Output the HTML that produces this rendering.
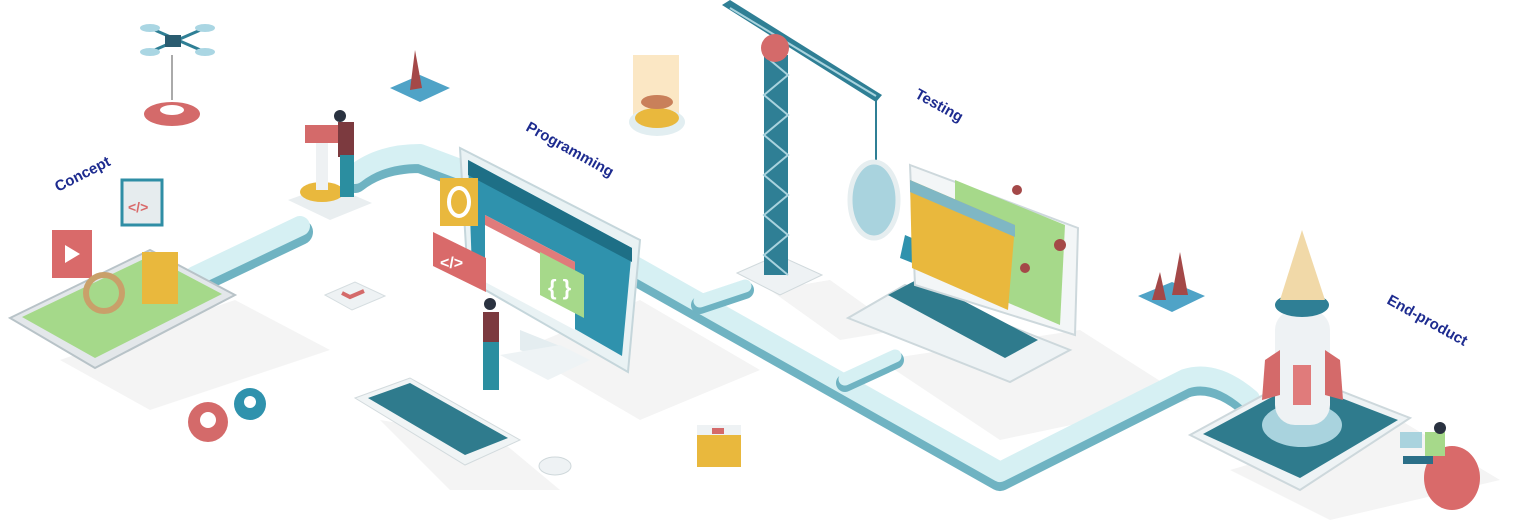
<!DOCTYPE html>
<html><head><meta charset="utf-8"><style>
html,body{margin:0;padding:0;background:#fff;}
svg{display:block}
text{font-family:"Liberation Sans",sans-serif;font-weight:bold;fill:#1d2b8f;font-size:15px}
</style></head><body>
<svg width="1536" height="530" viewBox="0 0 1536 530" xmlns="http://www.w3.org/2000/svg">
<!-- shadows -->
<g fill="#f4f4f4">
<polygon points="60,360 235,300 330,350 150,410"/>
<polygon points="520,350 640,300 760,370 640,420"/>
<polygon points="880,360 1080,330 1190,400 1000,440"/>
<polygon points="1230,470 1400,420 1500,480 1330,520"/>
<polygon points="380,420 500,440 560,490 450,490"/>
<polygon points="770,290 830,280 900,330 840,340"/>
</g>
<!-- path -->
<g fill="none" stroke-linejoin="round" stroke-linecap="round">
<path d="M195,282 L300,232 M355,180 Q380,160 420,160 L460,175 L640,275 L1000,478 L1185,385 Q1215,375 1250,405" stroke="#6fb3c2" stroke-width="26"/>
<path d="M195,276 L300,226 M355,174 Q380,154 420,154 L460,169 L640,269 L1000,472 L1185,379 Q1215,369 1250,399" stroke="#d6f0f3" stroke-width="20"/>
<path d="M700,305 L745,290 M845,383 L895,360" stroke="#6fb3c2" stroke-width="18"/>
<path d="M700,301 L745,286 M845,379 L895,356" stroke="#d6f0f3" stroke-width="13"/>
</g>
<!-- left tablet -->
<polygon points="10,318 150,250 235,295 95,368" fill="#e3e7ea" stroke="#b8c3c8" stroke-width="2"/>
<polygon points="22,317 150,256 222,294 95,358" fill="#a5d98a"/>
<rect x="52" y="230" width="40" height="48" fill="#d96a6a"/>
<polygon points="65,245 80,254 65,263" fill="#fff"/>
<rect x="122" y="180" width="40" height="45" fill="#e6ecee" stroke="#2f8ea5" stroke-width="3"/>
<text x="128" y="212" style="fill:#d96a6a;font-size:14px">&lt;/&gt;</text>
<rect x="142" y="252" width="36" height="52" fill="#e9b83d"/>
<circle cx="104" cy="293" r="18" fill="none" stroke="#c9a06a" stroke-width="6"/>
<!-- drone & gear -->
<ellipse cx="172" cy="114" rx="28" ry="12" fill="#d46a6a"/>
<ellipse cx="172" cy="110" rx="12" ry="5" fill="#fff"/>
<line x1="172" y1="55" x2="172" y2="100" stroke="#555"/>
<g stroke="#2f7f95" stroke-width="3"><line x1="150" y1="28" x2="205" y2="52"/><line x1="150" y1="52" x2="205" y2="28"/></g>
<g fill="#aad6e3"><ellipse cx="150" cy="28" rx="10" ry="4"/><ellipse cx="205" cy="28" rx="10" ry="4"/><ellipse cx="150" cy="52" rx="10" ry="4"/><ellipse cx="205" cy="52" rx="10" ry="4"/></g>
<rect x="165" y="35" width="16" height="12" fill="#2a5c70"/>
<!-- person & gear stand -->
<polygon points="288,200 330,185 372,203 330,220" fill="#e9eef0"/>
<ellipse cx="322" cy="192" rx="22" ry="10" fill="#e9b83d"/>
<rect x="316" y="135" width="12" height="55" fill="#eef1f3"/>
<rect x="305" y="125" width="35" height="18" fill="#d46a6a"/>
<rect x="338" y="122" width="16" height="35" fill="#7c3a3f"/>
<rect x="340" y="155" width="14" height="42" fill="#2b8ea0"/>
<circle cx="340" cy="116" r="6" fill="#2a3240"/>
<!-- cone pads -->
<polygon points="390,88 420,75 450,88 420,102" fill="#4fa3c7"/>
<polygon points="415,50 422,88 410,90" fill="#a44848"/>
<polygon points="1138,296 1172,282 1205,296 1172,312" fill="#4fa3c7"/>
<polygon points="1180,252 1188,295 1172,295" fill="#a44848"/>
<polygon points="1160,272 1166,300 1152,300" fill="#a44848"/>
<!-- jar -->
<rect x="633" y="55" width="46" height="60" fill="#fbe7c4"/>
<ellipse cx="657" cy="122" rx="28" ry="14" fill="#e2eef1"/>
<ellipse cx="657" cy="118" rx="22" ry="10" fill="#e9b83d"/>
<ellipse cx="657" cy="102" rx="16" ry="7" fill="#c9805a"/>
<!-- monitor -->
<polygon points="460,148 640,240 628,372 468,280" fill="#e9f2f4" stroke="#c5d6db" stroke-width="2"/>
<polygon points="468,160 632,248 622,356 472,270" fill="#2f92ad"/>
<polygon points="468,160 632,248 632,262 468,175" fill="#1e6f86"/>
<polygon points="485,215 575,262 575,330 485,282" fill="#fff"/>
<polygon points="485,215 575,262 575,272 485,225" fill="#e07b7b"/>
<polygon points="540,252 584,275 584,318 540,295" fill="#a6d98a"/>
<text x="548" y="295" style="fill:#fff;font-size:22px">{ }</text>
<rect x="440" y="178" width="38" height="48" fill="#e9b83d"/>
<ellipse cx="459" cy="202" rx="10" ry="14" fill="none" stroke="#fff" stroke-width="4"/>
<polygon points="433,232 486,258 486,292 433,266" fill="#d96a6a"/>
<text x="440" y="268" style="fill:#fff;font-size:16px">&lt;/&gt;</text>
<polygon points="520,330 570,350 570,368 520,350" fill="#e4edf0"/>
<polygon points="500,355 548,380 590,360 560,345" fill="#eef3f5"/>
<!-- programmer -->
<rect x="483" y="312" width="16" height="32" fill="#7c3a3f"/>
<rect x="483" y="342" width="16" height="48" fill="#2b8ea0"/>
<circle cx="490" cy="304" r="6" fill="#2a3240"/>
<!-- check card -->
<polygon points="325,295 355,282 385,296 352,310" fill="#eef2f4" stroke="#d5dde0"/>
<path d="M342,293 l8,4 l14,-6" stroke="#d46a6a" stroke-width="4" fill="none"/>
<!-- keyboard -->
<polygon points="355,398 410,378 520,440 465,465" fill="#f0f4f5" stroke="#d2dadd"/>
<polygon points="368,398 410,383 508,438 465,455" fill="#2f7b8d"/>
<ellipse cx="555" cy="466" rx="16" ry="9" fill="#eef2f4" stroke="#cfd8db"/>
<!-- gears bottom -->
<circle cx="208" cy="422" r="20" fill="#d46a6a"/><circle cx="208" cy="420" r="8" fill="#fff"/>
<circle cx="250" cy="404" r="16" fill="#2f92ad"/><circle cx="250" cy="402" r="6" fill="#fff"/>
<!-- stacked box -->
<rect x="697" y="435" width="44" height="32" fill="#e9b83d"/>
<rect x="697" y="425" width="44" height="10" fill="#eef2f4"/>
<rect x="712" y="428" width="12" height="6" fill="#d46a6a"/>
<!-- crane -->
<polygon points="737,273 778,255 822,275 780,295" fill="#eef2f4" stroke="#d0d9dc"/>
<rect x="764" y="55" width="24" height="220" fill="#2f7f95"/>
<path d="M764,55 l24,20 l-24,20 l24,20 l-24,20 l24,20 l-24,20 l24,20 l-24,20 l24,20 l-24,20 l24,20" stroke="#a9d3de" stroke-width="2" fill="none"/>
<polygon points="722,5 730,0 882,95 876,102" fill="#2f7f95"/>
<path d="M730,8 L876,96" stroke="#a9d3de" stroke-width="2"/>
<circle cx="775" cy="48" r="14" fill="#d46a6a"/>
<line x1="876" y1="100" x2="876" y2="170" stroke="#2f7f95" stroke-width="2"/>
<!-- magnifier -->
<ellipse cx="874" cy="200" rx="24" ry="38" fill="#a9d3de" stroke="#e6eef0" stroke-width="5"/>
<polygon points="905,235 940,250 935,272 900,258" fill="#2f92ad"/>
<!-- laptop -->
<polygon points="848,318 905,285 1070,350 1010,382" fill="#eef3f5" stroke="#cdd8dc" stroke-width="2"/>
<polygon points="888,295 920,278 1038,340 1005,358" fill="#2f7b8d"/>
<polygon points="910,165 1078,228 1075,335 915,285" fill="#f3f6f7" stroke="#cdd8dc" stroke-width="2"/>
<polygon points="955,180 1065,225 1060,325 955,280" fill="#a6d98a"/>
<polygon points="910,180 1015,225 1008,310 912,268" fill="#e9b83d"/>
<polygon points="910,180 1015,225 1015,237 910,192" fill="#7fb7c4"/>
<circle cx="1060" cy="245" r="6" fill="#a44848"/><circle cx="1025" cy="268" r="5" fill="#a44848"/><circle cx="1017" cy="190" r="5" fill="#a44848"/>
<!-- rocket pad -->
<polygon points="1190,435 1300,375 1410,418 1300,490" fill="#eef3f5" stroke="#cdd8dc" stroke-width="2"/>
<polygon points="1203,434 1300,382 1398,420 1300,478" fill="#2f7b8d"/>
<ellipse cx="1302" cy="425" rx="40" ry="22" fill="#a9d3de"/>
<rect x="1275" y="310" width="55" height="115" rx="20" fill="#eef2f4"/>
<ellipse cx="1302" cy="305" rx="27" ry="12" fill="#2f7f95"/>
<polygon points="1280,300 1302,230 1325,300" fill="#f1d9a8"/>
<polygon points="1265,360 1280,350 1280,395 1262,400" fill="#d46a6a"/>
<polygon points="1340,360 1325,350 1325,395 1343,400" fill="#d46a6a"/>
<rect x="1293" y="365" width="18" height="40" fill="#e07b7b"/>
<!-- person on beanbag -->
<ellipse cx="1452" cy="478" rx="28" ry="32" fill="#d96a6a"/>
<rect x="1425" y="432" width="20" height="24" fill="#a6d98a"/>
<circle cx="1440" cy="428" r="6" fill="#2a3240"/>
<rect x="1403" y="456" width="30" height="8" fill="#2b6f88"/>
<rect x="1400" y="432" width="22" height="16" fill="#a9d3de"/>
<!-- labels -->
<text transform="translate(58,192) rotate(-27)">Concept</text>
<text transform="translate(525,130) rotate(29)">Programming</text>
<text transform="translate(914,97) rotate(29)">Testing</text>
<text transform="translate(1386,303) rotate(29)">End-product</text>
</svg>
</body></html>
